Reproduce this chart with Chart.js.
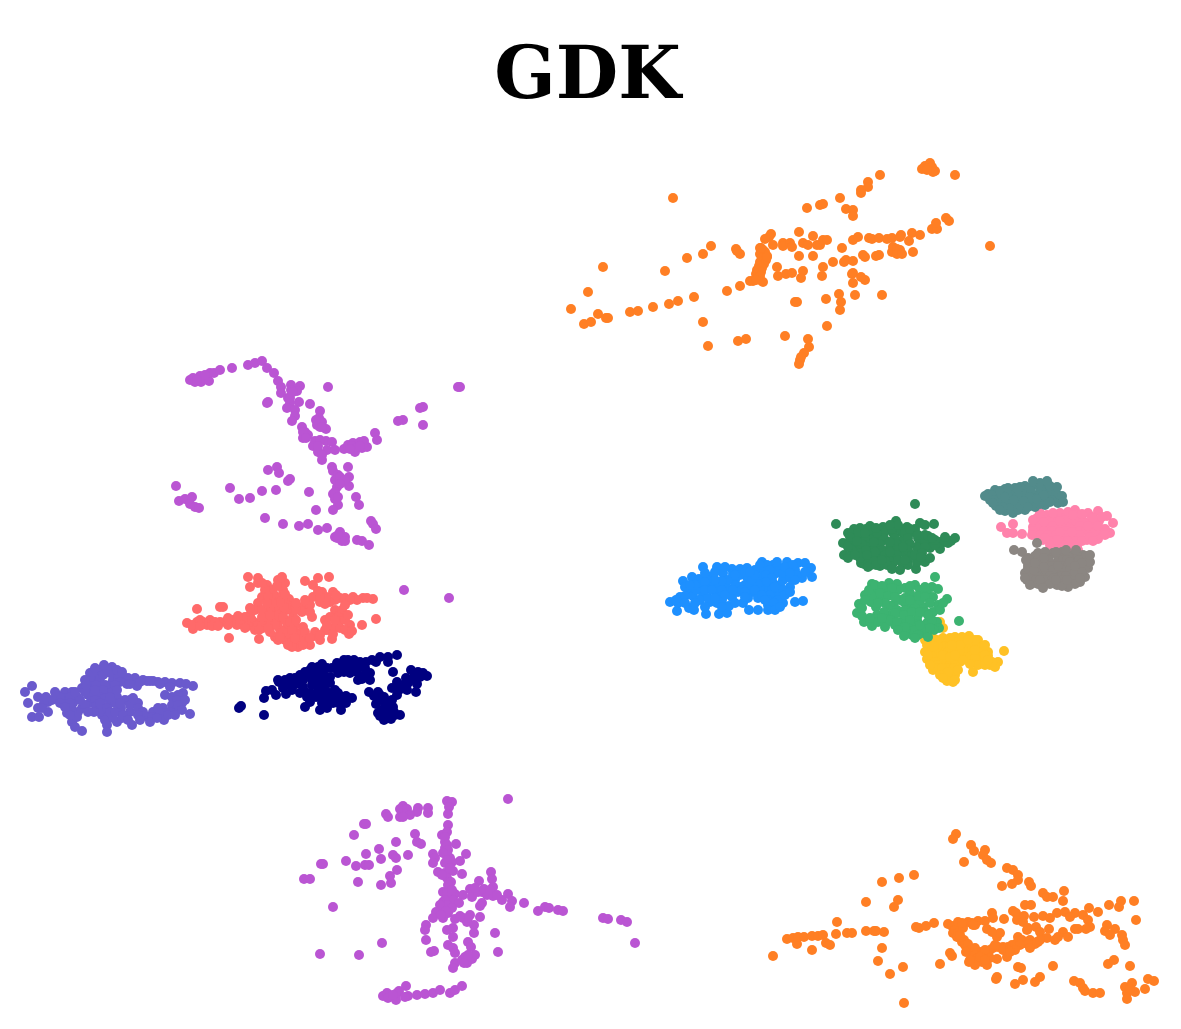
<!DOCTYPE html>
<html>
<head>
<meta charset="utf-8">
<title>GDK</title>
<script src="https://cdn.jsdelivr.net/npm/chart.js@4"></script>
<style>
html, body { margin: 0; padding: 0; background: #fff; }
canvas { display: block; }
</style>
</head>
<body>
<canvas id="myChart" width="1181" height="1029"></canvas>
<script>
var orangeTop = [[673,198],[571,309],[588,292],[603,267],[584,324],[591,322],[598,314],[606,318],[608,318],[630,312],[638,311],[653,307],[669,304],[678,301],[694,297],[665,271],[687,258],[703,254],[711,246],[703,322],[708,346],[738,341],[746,339],[785,336],[827,326],[808,339],[809,347],[804,353],[800,360],[799,364],[801,357],[795,302],[797,302],[826,299],[839,294],[841,302],[840,310],[855,295],[882,295],[853,283],[865,280],[861,277],[853,273],[852,274],[822,276],[823,267],[833,262],[844,262],[846,260],[853,261],[842,248],[813,256],[799,256],[777,267],[778,276],[786,274],[792,273],[803,271],[801,278],[727,291],[740,286],[750,281],[753,281],[760,280],[763,282],[760,248],[763,250],[765,252],[760,254],[767,256],[762,258],[766,260],[760,262],[764,264],[759,266],[762,268],[757,270],[761,272],[756,274],[760,276],[758,278],[756,280],[761,248],[767,257],[771,234],[769,237],[765,239],[773,245],[783,243],[783,246],[790,243],[792,247],[799,232],[803,243],[808,245],[813,236],[817,245],[820,245],[823,240],[827,240],[736,249],[740,254],[737,251],[853,240],[858,237],[869,238],[872,239],[879,238],[887,239],[892,238],[901,235],[900,237],[912,233],[920,235],[909,241],[893,247],[892,252],[897,249],[900,250],[897,254],[902,254],[913,252],[863,255],[865,257],[876,256],[879,255],[932,229],[937,229],[936,223],[946,218],[949,221],[990,246],[955,175],[880,175],[868,182],[868,187],[861,190],[861,193],[840,198],[807,208],[820,205],[823,204],[846,209],[853,210],[853,216],[922,169],[925,166],[930,163],[928,168],[932,167],[935,171],[933,172],[927,170]];

var purpleTop = [[190,380],[193,378],[195,382],[200,377],[201,382],[209,381],[210,373],[214,373],[220,370],[232,368],[248,365],[255,363],[262,361],[267,368],[274,373],[278,381],[281,387],[281,393],[291,385],[300,386],[291,390],[297,391],[328,387],[460,387],[458,387],[423,407],[420,408],[403,420],[398,421],[423,425],[267,403],[268,402],[288,398],[290,403],[299,402],[310,404],[287,408],[295,410],[295,416],[292,421],[320,411],[319,418],[317,425],[322,422],[326,429],[320,427],[302,427],[305,432],[303,438],[308,435],[315,441],[313,446],[318,452],[322,460],[326,441],[332,442],[327,450],[335,450],[344,449],[348,445],[355,452],[353,443],[360,442],[362,448],[367,447],[364,441],[375,433],[377,440],[348,467],[332,467],[333,471],[338,475],[349,477],[342,482],[337,487],[349,486],[333,494],[335,499],[338,505],[333,510],[356,497],[359,505],[316,510],[309,492],[268,470],[277,467],[279,473],[290,479],[288,481],[230,488],[176,486],[239,499],[250,498],[262,491],[276,490],[265,518],[283,524],[299,526],[308,524],[318,530],[327,528],[179,501],[185,499],[192,497],[190,504],[195,507],[199,508],[335,537],[340,532],[345,537],[342,541],[337,538],[357,540],[362,541],[369,545],[371,521],[373,524],[376,529],[404,590],[449,598],[290,398],[293,392],[316,420],[322,427],[303,432],[306,438],[335,480],[340,477],[345,480],[340,484],[335,492],[338,497],[352,446],[358,447],[350,449],[360,446],[340,537],[338,535],[345,541],[200,376],[205,375],[320,440],[318,446],[322,455],[197,380]];

var purpleBottom = [[508,799],[447,801],[452,802],[449,807],[448,814],[448,825],[403,806],[400,809],[407,809],[418,808],[428,808],[428,813],[417,812],[410,815],[400,817],[403,817],[386,814],[388,817],[364,824],[366,824],[354,835],[415,834],[417,842],[421,844],[396,842],[379,849],[366,854],[381,859],[393,855],[396,858],[408,855],[346,861],[356,866],[365,865],[369,865],[321,864],[323,864],[397,870],[390,876],[391,883],[381,885],[358,882],[304,879],[310,879],[333,907],[382,943],[320,954],[359,955],[442,835],[447,832],[445,842],[456,844],[445,848],[447,855],[450,858],[445,863],[433,854],[435,858],[433,863],[466,854],[460,861],[438,872],[445,873],[453,871],[462,874],[447,878],[451,882],[443,892],[455,894],[463,895],[447,898],[453,900],[443,902],[459,903],[442,908],[448,913],[436,912],[433,918],[443,918],[470,889],[473,893],[479,881],[482,892],[487,895],[491,872],[492,879],[493,887],[493,896],[482,903],[480,906],[502,900],[508,894],[512,901],[510,907],[524,903],[538,911],[545,907],[549,908],[558,910],[563,911],[603,918],[608,919],[621,920],[627,922],[635,943],[480,917],[455,919],[463,918],[467,922],[474,925],[474,933],[495,933],[426,925],[425,930],[426,940],[447,930],[453,928],[453,937],[448,945],[453,948],[455,953],[431,952],[434,951],[468,942],[471,947],[498,952],[465,957],[472,959],[467,963],[455,963],[453,968],[462,960],[383,996],[387,993],[388,998],[396,1000],[397,993],[399,991],[406,986],[408,996],[417,995],[425,994],[433,993],[440,990],[450,993],[455,990],[462,986],[405,997],[393,995],[445,837],[447,845],[448,850],[443,853],[452,862],[447,860],[450,868],[442,875],[448,885],[447,893],[452,890],[445,900],[447,905],[452,908],[440,905],[446,911],[441,915],[472,897],[478,892],[484,889],[490,890],[497,895],[475,888],[470,915],[468,918],[460,916],[470,957],[464,963],[475,955],[468,955]];

var salmon = [[248,577],[258,578],[250,587],[267,585],[278,580],[285,583],[282,577],[305,581],[318,578],[329,577],[313,585],[322,592],[333,592],[313,597],[340,598],[353,597],[363,598],[373,599],[330,602],[320,602],[303,607],[289,599],[277,597],[272,590],[258,603],[220,607],[223,607],[197,609],[187,623],[193,629],[197,622],[210,620],[207,625],[220,622],[232,620],[237,625],[250,615],[255,623],[267,615],[263,628],[277,607],[283,613],[278,623],[290,610],[287,627],[297,633],[275,637],[259,639],[229,638],[285,640],[298,647],[303,640],[310,645],[320,640],[332,639],[315,632],[327,630],[338,623],[335,610],[312,617],[325,620],[349,634],[350,625],[362,625],[376,619],[303,627],[293,617],[340,615],[275,620],[270,625],[285,620],[295,625],[300,635],[290,635],[280,630],[245,622],[240,620],[262,620],[225,622],[215,622],[300,610],[310,605],[328,600],[345,598],[357,600],[367,598],[283,600],[287,605],[245,617],[235,623],[228,625],[203,622],[212,626],[192,625],[200,620],[252,620],[258,625],[268,620],[275,615],[270,610],[278,615],[284,607],[280,602],[273,593],[265,590],[258,583],[275,625],[283,617],[290,622],[283,632],[292,630],[296,620],[300,640],[292,642],[305,632],[314,636],[305,600],[325,604],[335,600],[350,600],[295,607],[302,612],[342,610],[338,617],[333,628],[325,630],[340,628],[345,630],[262,625],[248,626],[270,632],[310,612],[303,645],[292,647],[296,610],[255,610],[262,610],[250,608],[262,597],[268,597],[272,603],[267,603],[262,617],[240,624],[245,628],[255,630],[270,615],[218,626],[200,626],[228,618],[238,616],[278,640],[288,645],[295,638],[310,638],[320,635],[327,625],[333,634],[345,605],[345,620],[348,615],[336,595],[326,597],[320,597],[318,591],[283,590],[277,586],[262,583],[296,603],[285,594],[268,628],[280,637],[259,630],[352,631],[330,617],[335,620]];

var slate = [[32,686],[25,692],[38,697],[28,703],[48,702],[38,708],[48,712],[32,717],[39,717],[57,695],[65,692],[72,692],[65,700],[73,703],[82,708],[67,713],[72,722],[77,717],[82,731],[90,673],[112,667],[105,673],[88,680],[98,682],[110,685],[123,677],[135,678],[143,680],[153,681],[165,682],[180,683],[193,686],[137,686],[82,688],[88,695],[97,692],[107,693],[117,697],[90,703],[102,707],[102,715],[108,717],[110,703],[121,708],[130,712],[138,703],[130,700],[117,722],[122,718],[107,725],[107,732],[132,725],[148,717],[153,712],[164,720],[163,708],[172,705],[177,710],[182,703],[183,693],[165,695],[172,697],[190,714],[92,685],[105,685],[95,675],[100,670],[108,672],[100,678],[92,690],[103,690],[113,680],[90,680],[96,685],[103,675],[112,674],[118,678],[128,678],[90,695],[100,697],[112,692],[127,684],[85,692],[95,700],[105,698],[115,703],[96,706],[85,705],[77,697],[70,697],[60,697],[52,700],[44,703],[93,672],[107,669],[120,682],[125,700],[130,705],[138,708],[133,698],[120,703],[100,710],[105,720],[113,718],[147,681],[158,682],[172,683],[186,684],[178,695],[177,700],[152,717],[160,712],[170,712],[178,705],[143,712],[138,715],[78,712],[72,710],[86,685],[95,690],[110,697],[85,680],[95,668],[104,665],[117,670],[122,672],[115,685],[117,690],[100,703],[107,708],[94,712],[88,712],[80,700],[75,692],[70,703],[60,703],[55,692],[46,697],[42,708],[75,727],[70,715],[65,707],[110,712],[115,712],[123,715],[128,720],[140,720],[150,722],[157,718],[158,708],[168,715],[175,715],[182,710],[185,700],[150,681],[160,684],[170,687],[130,684],[140,682]];

var navy = [[239,708],[241,706],[264,715],[264,698],[266,691],[276,695],[286,694],[279,682],[278,680],[290,678],[300,675],[303,687],[300,693],[307,697],[305,707],[310,702],[327,708],[341,710],[320,697],[330,693],[343,697],[352,698],[325,683],[320,677],[312,667],[318,667],[327,668],[338,673],[337,663],[348,660],[360,662],[350,673],[358,680],[370,673],[372,660],[380,657],[388,657],[397,655],[393,672],[388,662],[411,670],[423,673],[427,676],[397,682],[403,685],[413,678],[407,690],[416,692],[397,695],[369,692],[378,692],[380,700],[385,707],[393,707],[378,713],[385,715],[395,715],[391,719],[330,677],[310,675],[325,690],[318,683],[345,667],[285,680],[295,678],[305,672],[315,672],[323,672],[332,668],[322,664],[342,665],[355,665],[365,668],[357,672],[344,672],[365,675],[325,677],[330,683],[335,690],[328,697],[335,697],[338,693],[322,690],[312,685],[322,703],[316,697],[346,696],[292,690],[300,683],[408,683],[420,677],[401,687],[384,697],[380,695],[386,703],[388,712],[382,710],[390,714],[293,683],[272,690],[283,688],[288,684],[296,684],[312,680],[318,690],[326,697],[318,677],[310,670],[303,680],[310,693],[338,668],[344,660],[354,660],[366,662],[358,668],[350,667],[370,680],[376,662],[362,679],[305,692],[338,703],[346,703],[333,703],[320,710],[325,703],[384,720],[376,704],[374,696],[392,700],[400,715],[394,712],[380,716],[417,684],[406,678],[392,688],[399,690],[418,672]];

var blue = [[703,567],[717,567],[683,581],[692,577],[699,579],[710,577],[723,573],[732,569],[740,569],[747,568],[735,580],[747,577],[762,562],[773,565],[787,562],[798,563],[805,563],[811,568],[812,577],[802,578],[790,570],[763,570],[777,573],[760,578],[773,583],[790,587],[783,580],[767,590],[777,593],[713,585],[727,588],[740,587],[753,592],[705,585],[689,591],[680,597],[693,596],[703,595],[717,593],[732,597],[743,603],[710,602],[717,603],[670,602],[677,611],[678,603],[689,608],[694,610],[706,614],[719,614],[727,613],[729,606],[749,610],[758,610],[768,605],[777,605],[783,603],[795,602],[803,601],[770,598],[767,565],[780,568],[770,570],[783,573],[795,570],[766,575],[772,578],[790,578],[780,585],[766,582],[760,588],[772,590],[783,590],[770,595],[778,600],[768,600],[808,572],[797,575],[755,584],[745,585],[735,585],[720,586],[728,580],[722,581],[715,580],[707,580],[700,585],[696,590],[685,596],[676,600],[700,600],[708,598],[722,600],[738,592],[748,598],[758,598],[750,585],[758,584],[740,575],[733,574],[705,582],[715,572],[752,580],[774,603],[742,590],[685,587],[695,585],[705,590],[712,590],[722,590],[733,590],[745,592],[755,590],[762,595],[685,603],[695,603],[705,607],[722,607],[735,603],[745,597],[690,585],[715,598],[725,595],[705,573],[725,567],[735,575],[745,572],[755,570],[760,565],[785,567],[777,562],[793,565],[805,572],[795,580],[785,595],[790,592],[775,587],[765,600],[790,573],[755,575],[750,572],[768,610],[775,610],[780,607]];

var darkGreen = [[915,504],[836,524],[934,524],[848,533],[860,528],[870,526],[883,527],[896,521],[907,527],[920,523],[925,525],[913,532],[860,537],[877,537],[893,533],[903,540],[843,543],[857,547],[873,547],[890,547],[905,553],[920,542],[930,542],[940,542],[951,541],[945,542],[940,549],[930,548],[917,547],[844,555],[848,558],[861,563],[864,564],[880,566],[893,563],[903,565],[916,569],[917,562],[925,562],[930,558],[860,553],[877,557],[890,557],[868,542],[885,540],[902,532],[852,540],[854,529],[866,529],[878,529],[888,529],[900,529],[915,529],[852,533],[870,533],[884,533],[905,533],[855,538],[866,538],[874,538],[883,538],[895,538],[908,538],[918,538],[849,544],[862,544],[880,544],[897,544],[910,544],[852,550],[866,550],[882,550],[897,550],[908,550],[870,555],[885,555],[897,555],[912,555],[868,560],[873,560],[885,560],[898,560],[908,560],[871,565],[887,565],[908,565],[925,540],[935,545],[948,543],[925,547],[935,540],[858,533],[865,533],[877,533],[892,529],[898,525],[910,529],[890,525],[876,528],[850,537],[848,547],[857,541],[874,542],[890,542],[903,547],[890,552],[875,552],[860,558],[868,567],[876,565],[900,570],[892,569],[905,560],[915,555],[922,553],[921,557],[855,555],[918,535],[925,535],[928,536],[932,538],[945,537],[955,538],[867,555],[882,560]];

var seaGreen = [[935,577],[872,584],[889,583],[897,584],[915,585],[932,587],[938,589],[877,590],[865,595],[893,593],[910,593],[927,593],[933,597],[947,599],[859,604],[857,613],[864,622],[872,626],[876,607],[877,615],[887,622],[893,605],[900,600],[910,607],[923,607],[907,617],[917,620],[900,627],[912,635],[923,633],[927,623],[933,612],[938,605],[937,622],[939,628],[959,621],[880,597],[890,615],[900,613],[908,628],[871,602],[884,598],[897,600],[904,602],[890,606],[897,610],[905,610],[915,605],[884,612],[893,618],[903,622],[912,627],[918,615],[925,612],[885,627],[895,625],[905,633],[915,630],[870,622],[878,622],[925,630],[932,620],[928,615],[940,610],[943,603],[934,630],[922,628],[898,590],[905,588],[920,590],[885,588],[872,596],[869,590],[912,600],[920,600],[875,585],[882,586],[892,588],[910,586],[925,587],[880,593],[888,596],[905,598],[918,596],[925,597],[895,597],[910,600],[885,603],[878,603],[904,615],[912,612],[895,613],[890,620],[882,618],[897,622],[910,620],[920,625],[905,627],[918,635],[928,637],[930,628],[920,612],[930,603],[898,630],[904,636],[915,638],[870,618],[862,616],[862,608],[865,600]];

var yellow = [[940,622],[943,628],[933,638],[943,638],[955,637],[969,636],[978,640],[927,645],[940,650],[957,648],[972,650],[982,648],[988,652],[1004,651],[927,659],[940,660],[953,660],[968,660],[980,657],[990,665],[998,662],[995,667],[973,672],[933,670],[943,672],[953,670],[947,681],[953,682],[955,675],[933,650],[962,643],[935,642],[948,642],[955,642],[970,642],[932,646],[945,646],[950,646],[968,646],[975,646],[930,652],[937,652],[948,652],[955,652],[965,652],[977,652],[983,652],[932,656],[945,656],[960,656],[970,656],[988,656],[930,662],[935,662],[947,662],[960,662],[975,658],[937,665],[950,665],[955,665],[938,668],[948,668],[954,668],[945,675],[950,675],[948,678],[952,678],[985,660],[992,662],[938,645],[950,638],[962,637],[975,640],[985,645],[943,655],[950,657],[963,650],[975,650],[985,655],[925,652],[925,640],[937,640],[960,650],[978,665],[985,665],[970,664],[963,660],[955,655],[930,665],[942,668],[948,672],[958,670],[940,675],[955,680],[943,678],[928,655],[934,646],[960,645],[952,645],[968,640],[988,660]];

var pink = [[1001,527],[1013,524],[1007,533],[1013,533],[1022,534],[1033,527],[1037,518],[1047,515],[1060,513],[1075,510],[1088,513],[1098,511],[1107,516],[1113,523],[1110,533],[1102,532],[1098,539],[1090,533],[1037,532],[1043,540],[1057,545],[1070,547],[1077,547],[1087,540],[1047,527],[1060,527],[1073,527],[1087,523],[1060,537],[1073,537],[1093,523],[1043,517],[1053,517],[1066,517],[1080,517],[1092,517],[1038,521],[1050,521],[1058,521],[1068,521],[1076,521],[1083,521],[1099,521],[1040,526],[1053,526],[1066,526],[1080,526],[1033,531],[1044,531],[1052,531],[1066,531],[1080,531],[1086,531],[1095,531],[1040,535],[1048,535],[1056,535],[1068,535],[1080,535],[1050,541],[1063,541],[1075,541],[1082,541],[1068,541],[1050,545],[1063,545],[1105,529],[1040,513],[1053,513],[1068,512],[1082,514],[1093,518],[1044,522],[1064,520],[1088,526],[1098,526],[1102,517],[1032,535],[1060,521],[1033,520],[1072,532],[1060,532],[1045,538],[1065,550],[1078,550],[1057,540],[1090,537],[1093,541],[1105,535],[1073,515]];

var teal = [[988,494],[995,490],[1005,489],[1015,488],[1025,486],[1035,484],[1045,484],[1055,488],[1059,497],[1058,503],[1045,505],[1035,507],[1025,510],[1013,513],[1005,511],[996,506],[990,500],[1000,497],[1012,497],[1025,496],[1038,495],[1050,495],[1017,505],[1005,503],[992,495],[1000,491],[1008,494],[1016,492],[1023,490],[1030,488],[1040,488],[1048,490],[1053,494],[1045,500],[1035,501],[1028,503],[1020,500],[1010,501],[1000,503],[1010,508],[1018,510],[1031,491],[1042,491],[1056,493],[1030,497],[1052,500],[994,500],[1018,494],[1008,488],[1050,486],[1040,483],[1062,496],[985,496],[993,503],[1003,507],[1020,505],[1014,500],[1005,497],[1024,501],[1040,504],[1050,502],[1037,499],[1044,495],[1028,507],[1020,487],[1033,481],[1047,481],[1057,487],[1063,502],[1000,510],[1018,489]];

var gray = [[1037,543],[1014,550],[1022,552],[1028,558],[1040,555],[1053,553],[1062,552],[1073,555],[1083,555],[1090,562],[1088,568],[1025,573],[1028,565],[1027,580],[1033,583],[1043,585],[1057,585],[1068,585],[1080,582],[1085,577],[1043,563],[1057,563],[1073,563],[1043,575],[1057,575],[1073,575],[1033,560],[1035,556],[1047,556],[1058,556],[1068,556],[1078,556],[1086,556],[1030,560],[1038,560],[1049,560],[1063,560],[1067,560],[1079,560],[1035,566],[1048,566],[1052,566],[1063,566],[1068,566],[1080,566],[1086,566],[1030,570],[1038,570],[1046,570],[1053,570],[1062,570],[1070,570],[1078,570],[1031,576],[1037,576],[1050,576],[1062,576],[1066,576],[1079,576],[1036,580],[1045,580],[1052,580],[1063,580],[1073,580],[1038,584],[1050,584],[1062,584],[1075,584],[1068,587],[1028,568],[1026,560],[1038,553],[1045,552],[1056,552],[1066,550],[1076,550],[1088,562],[1090,555],[1082,563],[1075,572],[1025,578],[1034,570],[1044,567],[1058,566],[1070,562],[1082,572],[1075,566],[1040,580],[1030,585],[1054,578],[1043,588],[1062,586],[1080,578],[1056,580],[1035,563],[1044,558],[1067,580]];

var orangeBottom = [[773,956],[787,939],[793,938],[797,944],[798,937],[804,937],[812,950],[812,936],[818,936],[823,935],[826,943],[830,945],[836,934],[837,922],[847,933],[852,933],[866,931],[866,902],[874,931],[876,931],[884,932],[882,882],[899,878],[914,875],[894,907],[898,900],[882,948],[878,961],[890,974],[903,967],[904,1003],[916,927],[919,928],[926,926],[934,923],[940,964],[950,953],[952,956],[948,924],[952,926],[960,925],[968,922],[978,921],[985,921],[992,913],[993,918],[1004,919],[953,933],[957,937],[962,942],[967,948],[972,953],[975,960],[969,962],[982,962],[987,965],[997,959],[1007,957],[980,952],[993,948],[1003,947],[1017,943],[1025,943],[1038,942],[1018,937],[1027,930],[997,937],[1000,933],[987,929],[992,932],[1018,967],[1021,968],[1053,966],[996,979],[997,977],[1015,984],[1023,980],[1035,982],[1040,977],[1074,981],[1080,983],[1083,988],[1085,991],[1093,993],[1100,993],[1108,964],[1114,960],[1130,966],[1125,987],[1132,983],[1127,993],[1135,992],[1127,999],[1145,989],[1148,979],[1154,981],[1130,989],[956,834],[953,839],[971,845],[974,851],[985,850],[983,855],[987,860],[991,863],[964,862],[1007,868],[1013,870],[1018,875],[1018,880],[1002,886],[1012,884],[1029,882],[1031,886],[1043,893],[1047,897],[1053,897],[1064,891],[1063,901],[1025,905],[1031,905],[1013,911],[1016,913],[1024,916],[1017,920],[1023,922],[1028,928],[1034,917],[1043,916],[1050,918],[1057,913],[1065,912],[1075,913],[1070,917],[1083,915],[1089,908],[1088,920],[1090,927],[1086,929],[1098,912],[1109,905],[1121,901],[1119,907],[1134,901],[1136,920],[1107,925],[1105,931],[1115,929],[1110,935],[1122,935],[1123,940],[1125,945],[1036,927],[1040,932],[1049,929],[1047,938],[1055,940],[1063,932],[1058,937],[1068,937],[1075,929],[1078,929],[1037,942],[955,930],[958,933],[960,938],[964,940],[965,945],[968,944],[970,950],[975,948],[975,955],[978,958],[985,955],[990,950],[985,950],[998,947],[1008,947],[1012,945],[1022,940],[1030,940],[1035,944],[1003,950],[1028,944],[1010,950],[975,925],[972,923],[958,922],[963,928],[966,952],[975,965],[980,957],[990,958],[960,935],[970,960],[985,960],[995,945],[1015,945],[1020,945],[1030,948],[1040,940],[1015,950],[973,925],[962,923],[1010,952]];

function series(points, color) {
    return {
        data: points,
        backgroundColor: color,
        borderWidth: 0,
        radius: 5,
        pointRadius: 5,
        pointHoverRadius: 5
    };
}

var ctx = document.getElementById('myChart').getContext('2d');
var myChart = new Chart(ctx, {
    type: 'scatter',
    data: {
        datasets: [
            series(orangeTop, '#FF7F24'),
            series(orangeBottom, '#FF7F24'),
            series(purpleTop, '#BA55D3'),
            series(purpleBottom, '#BA55D3'),
            series(salmon, '#FF6A6A'),
            series(slate, '#6A5ACD'),
            series(navy, '#000080'),
            series(blue, '#1E90FF'),
            series(darkGreen, '#2E8B57'),
            series(seaGreen, '#3CB371'),
            series(yellow, '#FFC125'),
            series(teal, '#528B8B'),
            series(gray, '#8B8682'),
            series(pink, '#FF82AB')
        ]
    },
    options: {
        responsive: false,
        animation: false,
        layout: { padding: { right: 6 }, autoPadding: false },
        plugins: {
            legend: { display: false },
            tooltip: { enabled: false },
            title: {
                display: true,
                text: 'GDK',
                color: '#000000',
                font: { family: '"DejaVu Serif"', size: 72, weight: 'bold', lineHeight: 1 },
                padding: { top: 43, bottom: 5 }
            }
        },
        scales: {
            x: { type: 'linear', display: false, min: 0, max: 1175 },
            y: { type: 'linear', display: false, min: 120, max: 1029, reverse: true }
        }
    }
});
</script>
</body>
</html>
